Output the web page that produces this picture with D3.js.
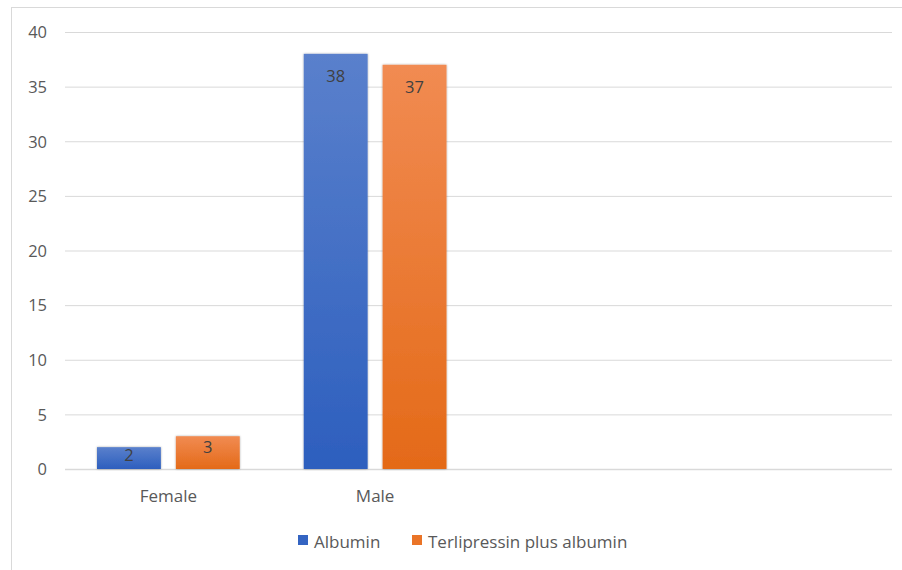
<!DOCTYPE html>
<html><head><meta charset="utf-8">
<script src="https://cdn.jsdelivr.net/npm/d3@7"></script>
<style>body{margin:0;background:#fff;} svg{display:block;}</style>
</head><body>
<script>
const categories = ["Female", "Male", "", " "];
const seriesNames = ["Albumin", "Terlipressin plus albumin"];
const albumin = [2, 38, null, null];
const terlipressin = [3, 37, null, null];
const yTicks = [0, 5, 10, 15, 20, 25, 30, 35, 40];

const W = 902, H = 570;
const svg = d3.select("body").append("svg").attr("width", W).attr("height", H);
const font = "'Open Sans', sans-serif";

const defs = svg.append("defs");
const grads = [["gBlue", "#5a80cc", "#2d5fbe"], ["gOrange", "#f18b52", "#e46a18"]];
grads.forEach(([id, c1, c2]) => {
  const g = defs.append("linearGradient").attr("id", id).attr("x1", 0).attr("y1", 0).attr("x2", 0).attr("y2", 1);
  g.append("stop").attr("offset", "0%").attr("stop-color", c1);
  g.append("stop").attr("offset", "100%").attr("stop-color", c2);
});
const f = defs.append("filter").attr("id", "sh").attr("x", "-20%").attr("y", "-20%").attr("width", "140%").attr("height", "140%");
f.append("feGaussianBlur").attr("in", "SourceAlpha").attr("stdDeviation", 1.2).attr("result", "b");
f.append("feOffset").attr("in", "b").attr("dx", 0).attr("dy", 0).attr("result", "o");
f.append("feComponentTransfer").attr("in", "o").attr("result", "o2").append("feFuncA").attr("type", "linear").attr("slope", 0.35);
const fm = f.append("feMerge");
fm.append("feMergeNode").attr("in", "o2");
fm.append("feMergeNode").attr("in", "SourceGraphic");

// frame
svg.append("rect").attr("x", 11.5).attr("y", 7.5).attr("width", 900).attr("height", 580)
  .attr("fill", "none").attr("stroke", "#d9d9d9").attr("stroke-width", 1);

const x = d3.scaleBand().domain(categories).range([65, 892]).paddingInner(0).paddingOuter(0);
const y = d3.scaleLinear().domain([0, 40]).range([469, 32]);
const x1 = d3.scaleBand().domain(seriesNames).range([32, x.bandwidth() - 32]).paddingInner(0.19);

// gridlines
svg.append("g").selectAll("line").data(yTicks).join("line")
  .attr("x1", 65).attr("x2", 892).attr("y1", d => y(d) + 0.5).attr("y2", d => y(d) + 0.5)
  .attr("stroke", "#d9d9d9").attr("stroke-width", d => d === 0 ? 1.5 : 1);

// y axis labels
const yAxis = d3.axisLeft(y).tickValues(yTicks).tickSize(0).tickPadding(0);
const ya = svg.append("g").attr("transform", "translate(47,0)").call(yAxis);
ya.select(".domain").remove();
ya.selectAll("text").attr("font-family", font).attr("font-size", 16.5).attr("fill", "#595959").attr("dy", "0.35em");

// x axis labels
const xAxis = d3.axisBottom(x).tickSize(0).tickPadding(0);
const xa = svg.append("g").attr("transform", "translate(0,490)").call(xAxis);
xa.select(".domain").remove();
xa.selectAll("text").attr("font-family", font).attr("font-size", 17).attr("fill", "#595959").attr("dy", "0.71em")
  .text(d => d.trim());

// bars
const rows = categories.map((c, i) => ({ c, vals: [albumin[i], terlipressin[i]] }));
const fills = ["url(#gBlue)", "url(#gOrange)"];
const grp = svg.append("g").selectAll("g").data(rows).join("g").attr("transform", d => `translate(${x(d.c)},0)`);
grp.selectAll("rect").data(d => d.vals.map((v, k) => ({ v, k })).filter(e => e.v != null)).join("rect")
  .attr("x", d => x1(seriesNames[d.k])).attr("width", x1.bandwidth())
  .attr("y", d => y(d.v)).attr("height", d => y(0) - y(d.v))
  .attr("fill", d => fills[d.k]).attr("filter", "url(#sh)");
grp.selectAll("text").data(d => d.vals.map((v, k) => ({ v, k })).filter(e => e.v != null)).join("text")
  .attr("x", d => x1(seriesNames[d.k]) + x1.bandwidth() / 2)
  .attr("y", d => { const h = y(0) - y(d.v); return y(d.v) + Math.min(22, h * 0.35); })
  .attr("dy", "0.35em").attr("text-anchor", "middle")
  .attr("font-family", font).attr("font-size", 16.5).attr("fill", "#404040").text(d => d.v);

// legend
const legColors = ["#3464c2", "#ea7427"];
const legX = [298, 412];
const lg = svg.append("g").selectAll("g").data(seriesNames).join("g")
  .attr("transform", (d, i) => `translate(${legX[i]},535)`);
lg.append("rect").attr("width", 10).attr("height", 10).attr("fill", (d, i) => legColors[i]);
lg.append("text").attr("x", 16).attr("y", 7).attr("dy", "0.35em")
  .attr("font-family", font).attr("font-size", 17).attr("fill", "#595959").text(d => d);
</script>
</body></html>
